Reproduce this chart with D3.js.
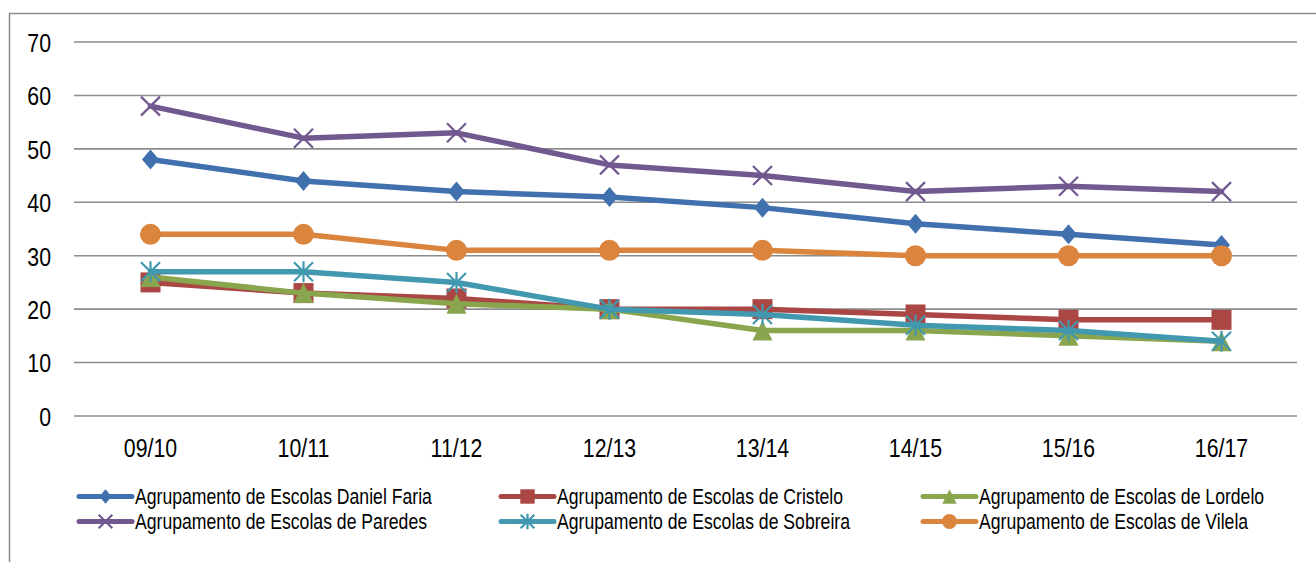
<!DOCTYPE html>
<html>
<head>
<meta charset="utf-8">
<script src="https://cdn.jsdelivr.net/npm/d3@7"></script>
<style>
  html, body { margin: 0; padding: 0; background: #fff; }
  svg { display: block; }
  text { font-family: "Liberation Sans", Arial, sans-serif; fill: #000; }
</style>
</head>
<body>
<svg id="chart" width="1316" height="562"></svg>
<script>
const categories = ["09/10", "10/11", "11/12", "12/13", "13/14", "14/15", "15/16", "16/17"];
const yTicks = [0, 10, 20, 30, 40, 50, 60, 70];
const seriesNames = [
  "Agrupamento de Escolas Daniel Faria",
  "Agrupamento de Escolas de Cristelo",
  "Agrupamento de Escolas de Lordelo",
  "Agrupamento de Escolas de Paredes",
  "Agrupamento de Escolas de Sobreira",
  "Agrupamento de Escolas de Vilela"
];
const danielFaria = [48, 44, 42, 41, 39, 36, 34, 32];
const cristelo    = [25, 23, 22, 20, 20, 19, 18, 18];
const lordelo     = [26, 23, 21, 20, 16, 16, 15, 14];
const paredes     = [58, 52, 53, 47, 45, 42, 43, 42];
const sobreira    = [27, 27, 25, 20, 19, 17, 16, 14];
const vilela      = [34, 34, 31, 31, 31, 30, 30, 30];
const seriesValues = [danielFaria, cristelo, lordelo, paredes, sobreira, vilela];
const seriesColors = ["#4170AE", "#AA4643", "#89A54E", "#71588F", "#4198AF", "#DB843D"];
const seriesMarkers = ["diamond", "square", "triangle", "x", "asterisk", "circle"];

const NARROW = 0.82;
const svg = d3.select("#chart");

// chart frame
svg.append("path")
  .attr("d", "M9.5,562 L9.5,13.5 L1316,13.5")
  .attr("fill", "none").attr("stroke", "#8c8c8c").attr("stroke-width", 1.5);

const x = d3.scaleBand().domain(categories).range([74, 1298]);
const y = d3.scaleLinear().domain([0, 70]).range([416, 42]);

// gridlines
svg.append("g").selectAll("line").data(yTicks).join("line")
  .attr("x1", 74).attr("x2", 1297)
  .attr("y1", d => y(d)).attr("y2", d => y(d))
  .attr("stroke", "#8c8c8c").attr("stroke-width", 1.6);

// y axis labels
const yAxis = d3.axisLeft(y).tickValues(yTicks).tickSize(0).tickPadding(0);
const gy = svg.append("g").attr("transform", "translate(51,0)").call(yAxis);
gy.select(".domain").remove();
gy.selectAll("text").attr("font-size", 26).attr("font-family", null).attr("x", 0)
  .attr("dy", "0.36em").attr("transform", `scale(${NARROW},1)`);

// x axis labels
const xAxis = d3.axisBottom(x).tickSize(0).tickPadding(0);
const gx = svg.append("g").attr("transform", "translate(0,438)").call(xAxis);
gx.select(".domain").remove();
gx.selectAll("text").attr("font-size", 26).attr("font-family", null).attr("y", 0)
  .attr("dy", "0.72em").attr("transform", `scale(${NARROW},1)`);

function drawMarker(g, type, color, cx, cy, scale) {
  const s = scale || 1;
  if (type === "diamond") {
    const r = 10 * s;
    g.append("path").attr("d", `M${cx},${cy - r}L${cx + r * 0.85},${cy}L${cx},${cy + r}L${cx - r * 0.85},${cy}Z`).attr("fill", color);
  } else if (type === "square") {
    const r = 10 * s;
    g.append("rect").attr("x", cx - r).attr("y", cy - r).attr("width", 2 * r).attr("height", 2 * r).attr("fill", color);
  } else if (type === "triangle") {
    const r = 10 * s;
    g.append("path").attr("d", `M${cx},${cy - r}L${cx + r},${cy + r}L${cx - r},${cy + r}Z`).attr("fill", color);
  } else if (type === "circle") {
    g.append("circle").attr("cx", cx).attr("cy", cy).attr("r", 10.5 * s).attr("fill", color);
  } else if (type === "x") {
    const r = 9.5 * s;
    g.append("path").attr("d", `M${cx - r},${cy - r}L${cx + r},${cy + r}M${cx - r},${cy + r}L${cx + r},${cy - r}`)
      .attr("stroke", color).attr("stroke-width", 2.2).attr("fill", "none");
  } else if (type === "asterisk") {
    const r = 9.5 * s;
    g.append("path").attr("d", `M${cx - r},${cy - r}L${cx + r},${cy + r}M${cx - r},${cy + r}L${cx + r},${cy - r}M${cx},${cy - r - 1}L${cx},${cy + r + 1}`)
      .attr("stroke", color).attr("stroke-width", 2.2).attr("fill", "none");
  }
}

const line = d3.line().x((d, i) => x(categories[i]) + x.bandwidth() / 2).y(d => y(d));

seriesValues.forEach((vals, si) => {
  const g = svg.append("g");
  g.append("path").datum(vals).attr("d", line)
    .attr("fill", "none").attr("stroke", seriesColors[si]).attr("stroke-width", 5.5)
    .attr("stroke-linejoin", "round").attr("stroke-linecap", "round");
  vals.forEach((v, i) => {
    drawMarker(g, seriesMarkers[si], seriesColors[si], x(categories[i]) + x.bandwidth() / 2, y(v));
  });
});

// legend
const legendCols = [135, 557, 979];
const legendRows = [496.5, 521.5];
seriesNames.forEach((name, i) => {
  const tx = legendCols[i % 3];
  const ty = legendRows[Math.floor(i / 3)];
  const g = svg.append("g");
  g.append("line").attr("x1", tx - 56).attr("x2", tx - 3).attr("y1", ty).attr("y2", ty)
    .attr("stroke", seriesColors[i]).attr("stroke-width", 5).attr("stroke-linecap", "round");
  drawMarker(g, seriesMarkers[i], seriesColors[i], tx - 29.5, ty, 0.72);
  g.append("text").attr("transform", `translate(${tx},${ty}) scale(${NARROW},1)`)
    .attr("dy", "0.36em").attr("font-size", 21.5).text(name);
});
</script>
</body>
</html>
